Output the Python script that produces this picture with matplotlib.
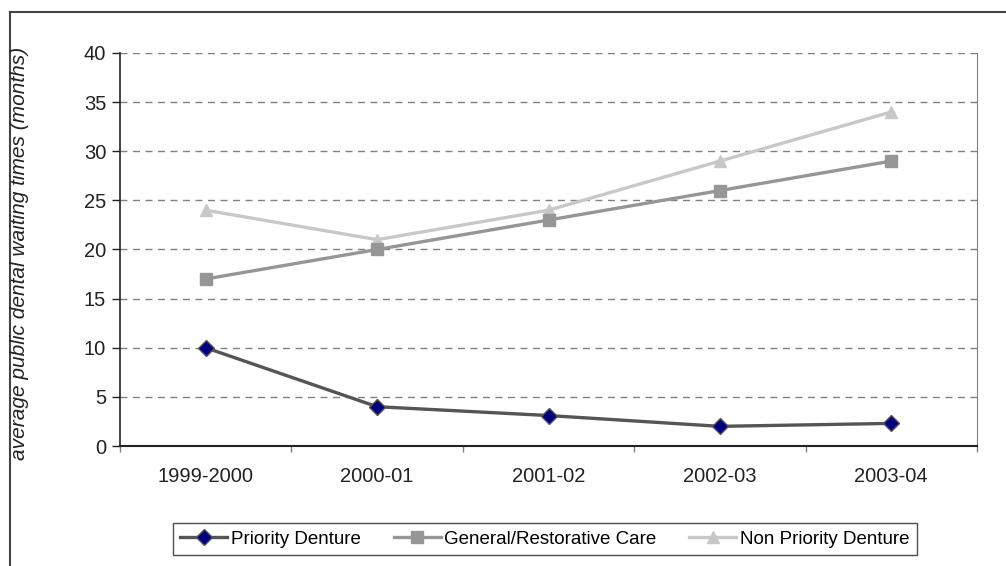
import matplotlib
matplotlib.use("Agg")
import matplotlib.pyplot as plt
from matplotlib.lines import Line2D

plt.rcParams['font.family'] = ['Liberation Sans', 'DejaVu Sans']

years = ["1999-2000", "2000-01", "2001-02", "2002-03", "2003-04"]
priority = [10, 4, 3.1, 2, 2.3]
general = [17, 20, 23, 26, 29]
non_priority = [24, 21, 24, 29, 34]

fig = plt.figure(figsize=(10.06, 5.66), dpi=100)
ax = fig.add_axes([120/1006, 1 - 446/566, (977-120)/1006, (446-53)/566])

x = range(len(years))
ax.plot(x, priority, color="#555555", lw=2.4, marker="D", ms=8,
        mfc="#000080", mec="#555555", mew=1, label="Priority Denture", zorder=5)
ax.plot(x, general, color="#969696", lw=2.4, marker="s", ms=8,
        mfc="#969696", mec="#969696", label="General/Restorative Care", zorder=4)
ax.plot(x, non_priority, color="#c8c8c8", lw=2.4, marker="^", ms=9,
        mfc="#c8c8c8", mec="#c8c8c8", label="Non Priority Denture", zorder=3)

ax.set_xlim(-0.5, 4.5)
ax.set_ylim(0, 40)
ax.set_yticks(range(0, 41, 5))
ax.set_xticks(x)
ax.set_xticklabels(years)
ax.set_xticks([i - 0.5 for i in range(6)], minor=True)
ax.tick_params(axis="x", which="major", length=0, pad=15, labelsize=14.5, colors="#222222")
ax.tick_params(axis="x", which="minor", length=4, width=1, color="#808080")
ax.tick_params(axis="y", length=6, width=1, labelsize=14.5, colors="#222222", pad=4)

ax.yaxis.grid(True, linestyle=(0, (5, 4)), color="#808080", lw=1)
ax.set_axisbelow(True)
ax.spines["top"].set_visible(False)
ax.spines["right"].set_color("#808080")
ax.spines["left"].set_color("#222222")
ax.spines["bottom"].set_color("#222222")
ax.spines["left"].set_linewidth(1.2)
ax.spines["bottom"].set_linewidth(1.5)

fig.text(20/1006, 1 - 253/566, "average public dental waiting times (months)",
         rotation=90, ha="center", va="center", fontsize=15, style="italic",
         color="#222222")

leg = fig.legend(loc="center", bbox_to_anchor=(545/1006, 1 - 539/566), ncol=3,
                 fontsize=13.5, frameon=True, fancybox=False, edgecolor="#222222",
                 handlelength=2.5, columnspacing=1.75, handletextpad=0.2,
                 borderpad=0.4)
leg.get_frame().set_linewidth(1)

# outer chart frame
fig.add_artist(Line2D([10/1006, 1], [1 - 12/566, 1 - 12/566], color="#444444", lw=1.5))
fig.add_artist(Line2D([10/1006, 10/1006], [0, 1 - 12/566], color="#444444", lw=1.5))

fig.savefig("out.png", dpi=100)
